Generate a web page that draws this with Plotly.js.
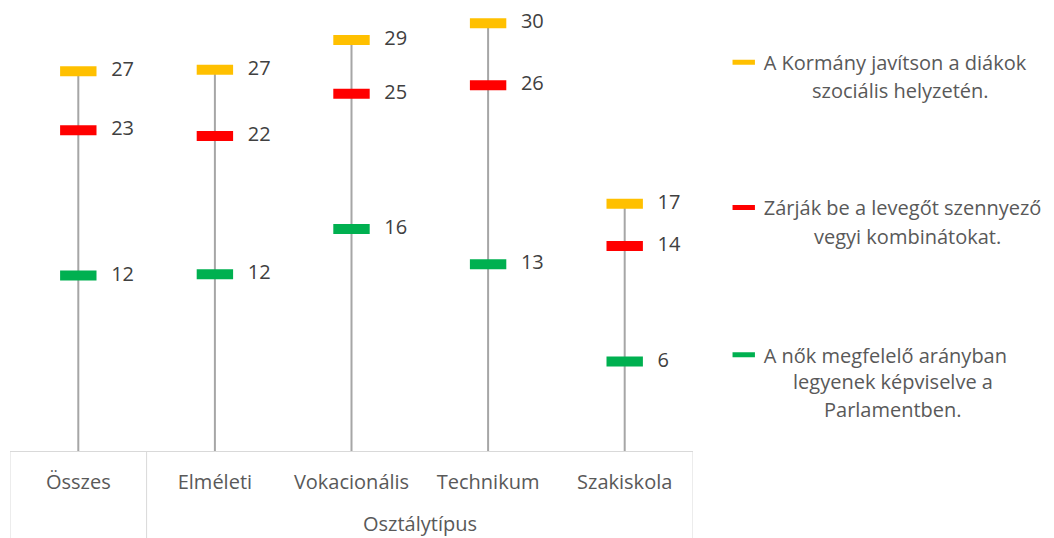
<!DOCTYPE html>
<html>
<head>
<meta charset="utf-8">
<script src="https://cdn.plot.ly/plotly-3.0.1.min.js"></script>
<style>
  html, body { margin: 0; padding: 0; background: #fff; }
</style>
</head>
<body>
<div id="plot" style="width:1054px;height:538px"></div>
<script>
// categories and values (labels on the chart are rounded)
const categories = ['Összes', 'Elméleti', 'Vokacionális', 'Technikum', 'Szakiskola'];
const kormany = [26.8, 26.9, 29.0, 30.2, 17.4];
const levego = [22.6, 22.2, 25.2, 25.8, 14.4];
const nok = [12.3, 12.4, 15.6, 13.1, 6.2];
const groupLabel = 'Osztálytípus';

const nameLines = [
    ['A Kormány javítson a diákok', 'szociális helyzetén.'],
    ['Zárják be a levegőt szennyező', 'vegyi kombinátokat.'],
    ['A nők megfelelő arányban', 'legyenek képviselve a', 'Parlamentben.']
];
const colors = ['#FFC000', '#FF0000', '#00B050'];

const yMin = -0.14;
const yMax = 31.49;
const font = '"Open Sans", "Noto Sans", sans-serif';
const fsize = 20;

// grey drop lines from the top marker down to the axis
const dropX = [];
const dropY = [];
categories.forEach((c, i) => {
    const top = Math.max(kormany[i], levego[i], nok[i]);
    dropX.push(c, c, c);
    dropY.push(top, yMin, null);
});

const traces = [{
    x: dropX,
    y: dropY,
    mode: 'lines',
    line: {color: '#A6A6A6', width: 2},
    hoverinfo: 'skip',
    showlegend: false
}];

[kormany, levego, nok].forEach((vals, k) => {
    traces.push({
        x: categories,
        y: vals,
        name: nameLines[k][0],
        mode: 'markers+text',
        marker: {symbol: 'line-ew', size: 26, color: colors[k], line: {color: colors[k], width: 10}},
        texttemplate: '\u00a0\u00a0\u00a0%{y:.0f}',
        textposition: 'middle right',
        textfont: {family: font, size: fsize, color: '#404040'},
        cliponaxis: false,
        legend: k === 0 ? 'legend' : 'legend' + (k + 1)
    });
});

const legendBase = {
    xanchor: 'left',
    yanchor: 'middle',
    x: 1.045,
    font: {family: font, size: fsize, color: '#595959'},
    bgcolor: 'rgba(0,0,0,0)'
};

// wrapped rest of the legend names
const contLines = [
    {text: nameLines[0][1], x: 1.3031, y: 0.8079},
    {text: nameLines[1][1], x: 1.3134, y: 0.4807},
    {text: nameLines[2][1], x: 1.2928, y: 0.1566},
    {text: nameLines[2][2], x: 1.2928, y: 0.0931}
];

const annotations = contLines.map(a => ({
    text: a.text, x: a.x, y: a.y, xref: 'paper', yref: 'paper',
    xanchor: 'center', yanchor: 'middle', showarrow: false,
    font: {family: font, size: fsize, color: '#595959'}
}));
annotations.push({
    text: groupLabel, x: 2.5, y: -0.162, xref: 'x', yref: 'paper',
    xanchor: 'center', yanchor: 'middle', showarrow: false,
    font: {family: font, size: fsize, color: '#595959'}
});

const boxLine = {color: '#D9D9D9', width: 1};
const shapes = [-0.5, 0.5, 4.5].map(v => ({
    type: 'line', xref: 'x', yref: 'paper', x0: v, x1: v, y0: 0, y1: -0.25, line: boxLine
}));

const layout = {
    width: 1054,
    height: 538,
    margin: {l: 10, r: 361, t: 5, b: 87},
    paper_bgcolor: '#fff',
    plot_bgcolor: '#fff',
    showlegend: true,
    xaxis: {
        type: 'category',
        range: [-0.5, 4.5],
        showgrid: false,
        zeroline: false,
        showline: true,
        linecolor: '#D9D9D9',
        linewidth: 1,
        ticks: '',
        ticklabelstandoff: 13,
        tickfont: {family: font, size: fsize, color: '#595959'}
    },
    yaxis: {
        range: [yMin, yMax],
        visible: false,
        showgrid: false,
        zeroline: false
    },
    legend: Object.assign({}, legendBase, {y: 0.8719}),
    legend2: Object.assign({}, legendBase, {y: 0.5461}),
    legend3: Object.assign({}, legendBase, {y: 0.2157}),
    annotations: annotations,
    shapes: shapes
};

Plotly.newPlot('plot', traces, layout, {displayModeBar: false, staticPlot: true});
</script>
</body>
</html>
